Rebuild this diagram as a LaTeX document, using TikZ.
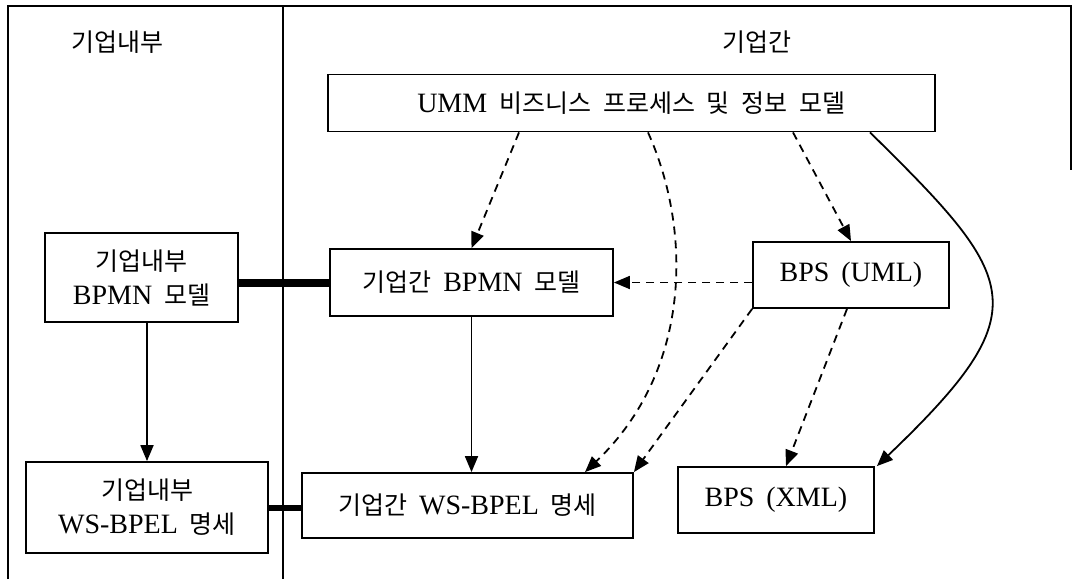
\documentclass[tikz,border=0pt]{standalone}
\usepackage{fontspec}
\setmainfont{Liberation Serif}[WordSpace=1.7]
\newfontfamily\kr{Noto Sans CJK KR}
\newcommand{\ko}[1]{{\kr\fontsize{25}{34}\selectfont #1}}
\usetikzlibrary{arrows.meta}

\begin{document}
\begin{tikzpicture}[x=1pt, y=-1pt, line width=1.8pt,
	box/.style={draw, align=center, inner sep=0pt, font=\fontsize{28}{34}\selectfont},
	dep/.style={dash pattern=on 8pt off 6pt},
	>={Triangle[length=16pt, width=13pt]}]
	\useasboundingbox (0,0) rectangle (1075,579);
	\draw (8,579) -- (8,6) -- (1071,6) -- (1071,170);
	\draw (283,6) -- (283,579);
	\node (inner) at (117,42) {\ko{기업내부}};
	\node (inter) at (757,42) {\ko{기업간}};
	\node[box, minimum width=607, minimum height=57] (umm) at (631.5,103) {UMM \ko{비즈니스} \ko{프로세스} \ko{및} \ko{정보} \ko{모델}};
	\node[box, minimum width=193, minimum height=89] (ibpmn) at (141.5,277.5) {\ko{기업내부}\\BPMN \ko{모델}};
	\node[box, minimum width=283, minimum height=67] (bbpmn) at (471.5,282.5) {\ko{기업간} BPMN \ko{모델}};
	\node[box, minimum width=196, minimum height=66] (uml) at (851,275) {BPS (UML)};
	\node[box, minimum width=242, minimum height=91] (iws) at (147,507.5) {\ko{기업내부}\\WS-BPEL \ko{명세}};
	\node[box, minimum width=331, minimum height=65] (bws) at (467.5,505.5) {\ko{기업간} WS-BPEL \ko{명세}};
	\node[box, minimum width=196, minimum height=66] (xml) at (776,500) {BPS (XML)};
	\draw[line width=8pt] (bbpmn.west -| ibpmn.east) -- (bbpmn.west);
	\draw[line width=6pt] (iws.east) -- (iws.east -| bws.west);
	\path[->]
		(iws.north |- ibpmn.south) edge (iws.north)
		(bbpmn.south) edge (bbpmn.south |- bws.north);
	\path[->, dep]
		([xshift=-112.5pt]umm.south) edge (bbpmn.north)
		([xshift=161.5pt]umm.south) edge (uml.north)
		(uml.west |- bbpmn.east) edge (bbpmn.east)
		(uml.south west) edge (bws.north east)
		([xshift=-4pt]uml.south) edge ([xshift=10pt]xml.north);
	\draw[->, dep] ([xshift=16.5pt]umm.south) .. controls (692,230) and (692,370) .. ([xshift=117.5pt]bws.north);
	\draw[->] ([xshift=238.5pt]umm.south) .. controls (1020,280) and (1040,310) .. ([xshift=2pt]xml.north east);
\end{tikzpicture}
\end{document}
